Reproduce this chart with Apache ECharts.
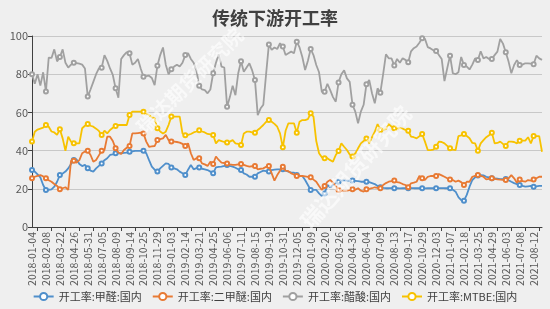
<!DOCTYPE html>
<html><head><meta charset="utf-8">
<script src="https://cdn.jsdelivr.net/npm/echarts@6/dist/echarts.min.js"></script>
<style>html,body{margin:0;padding:0;background:#efefef;}#c{width:550px;height:309px;}</style>
</head><body><div id="c"></div>
<script>
var dates = [
'2018-01-04','2018-01-11','2018-01-18','2018-01-25','2018-02-01','2018-02-08','2018-02-22','2018-03-01','2018-03-08','2018-03-15',
'2018-03-22','2018-03-29','2018-04-05','2018-04-12','2018-04-19','2018-04-26','2018-05-03','2018-05-10','2018-05-17','2018-05-24',
'2018-05-31','2018-06-07','2018-06-14','2018-06-21','2018-06-28','2018-07-05','2018-07-12','2018-07-19','2018-07-26','2018-08-02',
'2018-08-09','2018-08-16','2018-08-23','2018-08-30','2018-09-06','2018-09-14','2018-09-20','2018-09-27','2018-10-11','2018-10-18',
'2018-10-25','2018-11-01','2018-11-08','2018-11-15','2018-11-22','2018-11-29','2018-12-06','2018-12-13','2018-12-20','2018-12-27',
'2019-01-03','2019-01-10','2019-01-17','2019-01-24','2019-01-31','2019-02-14','2019-02-21','2019-02-28','2019-03-07','2019-03-14',
'2019-03-21','2019-03-28','2019-04-04','2019-04-11','2019-04-18','2019-04-25','2019-05-09','2019-05-16','2019-05-23','2019-05-30',
'2019-06-06','2019-06-13','2019-06-20','2019-06-27','2019-07-04','2019-07-11','2019-07-18','2019-07-25','2019-08-01','2019-08-08',
'2019-08-15','2019-08-22','2019-08-29','2019-09-05','2019-09-12','2019-09-19','2019-09-26','2019-10-10','2019-10-17','2019-10-24',
'2019-10-31','2019-11-07','2019-11-14','2019-11-21','2019-11-28','2019-12-05','2019-12-12','2019-12-19','2019-12-26','2020-01-02',
'2020-01-09','2020-01-16','2020-01-23','2020-02-06','2020-02-13','2020-02-20','2020-02-27','2020-03-05','2020-03-12','2020-03-19',
'2020-03-26','2020-04-02','2020-04-09','2020-04-16','2020-04-23','2020-04-30','2020-05-07','2020-05-14','2020-05-21','2020-05-28',
'2020-06-04','2020-06-11','2020-06-18','2020-06-25','2020-07-02','2020-07-09','2020-07-16','2020-07-23','2020-07-30','2020-08-06',
'2020-08-13','2020-08-20','2020-08-27','2020-09-03','2020-09-10','2020-09-17','2020-09-24','2020-10-08','2020-10-15','2020-10-22',
'2020-10-29','2020-11-05','2020-11-12','2020-11-19','2020-11-26','2020-12-03','2020-12-10','2020-12-17','2020-12-24','2020-12-31',
'2021-01-07','2021-01-14','2021-01-21','2021-01-28','2021-02-04','2021-02-18','2021-02-25','2021-03-04','2021-03-11','2021-03-18',
'2021-03-25','2021-04-01','2021-04-08','2021-04-15','2021-04-22','2021-04-29','2021-05-06','2021-05-13','2021-05-20','2021-05-27',
'2021-06-03','2021-06-10','2021-06-17','2021-06-24','2021-07-01','2021-07-08','2021-07-15','2021-07-22','2021-07-29','2021-08-05',
'2021-08-12','2021-08-19','2021-08-26','2021-09-02'];

var formaldehyde = [
29.8,29,27.5,26,22,19.4,19.5,19.7,21.1,23.7, 27.2,28,29,30.7,33,35.1,35.4,33,31.9,32.5,
30.7,29.5,29,30.7,32,33.3,35,36,37.7,38, 38.6,38.6,38.6,38.8,38.9,39.4,39.6,39.9,39.9,39.9,
39.9,38.6,35,31.6,30,29,30.7,32,33.3,33, 31.2,30.7,30.2,29,28.1,27.2,30,32.5,30.2,30.8,
31.2,30.5,30.2,29.8,29,28.1,31.2,31.5,31.6,32, 32.5,32,31.6,31,30.2,29.8,28.1,27.5,26.3,26.3,
26.3,28.1,28.8,29.5,29.2,29,29.8,30,30.2,30.2, 30.2,29.5,29,28.5,28.5,27.2,26.9,26.7,24.6,22,
19.4,19.4,19.4,17.6,16.2,17.6,22,20.8,22,23, 23.7,24.3,24.3,24.3,24.3,24.3,24.2,24,23.7,23.7,
23.7,23.5,23,22.5,21.5,20.8,20.5,20.3,20.3,20.4, 20.3,20.3,20.2,20.3,20.3,20.3,20.4,20.3,20.3,20.3,
20.3,20.2,20.3,20.3,20.3,20.3,20.3,20.4,20.3,20.3, 20.3,19.5,18.5,15.6,14.1,13.8,16.8,21.1,24.6,26,
26.9,27.2,27,26.3,26,25.5,25.5,25.3,25.1,25.1, 25.1,24.5,23.7,23,22.5,22,21.5,21.1,21.3,21.5,
21.1,21.3,21.5,21.5];

var dme = [
25.5,26.3,26.8,27.2,26.5,25.5,24.5,23.7,22.5,21.5, 19.7,20.3,20.8,19.4,34.7,34.7,33.7,35,38.6,39.5,
39.9,37.7,34.2,35.1,37.5,39.9,40.3,47.3,47.3,45, 41.2,39,38.2,40.3,41.5,42.4,49,49,49.2,49.4,
49,44.7,42,42.2,42.4,45.5,46,46.4,48.2,45.5, 44.7,44.7,44.5,44.2,43.5,42.4,43.8,38.6,35.1,36,
36,33.3,32.8,32,34.2,33,36.9,35.1,33.7,33.5, 33.3,32.8,32.5,32.5,32.8,33,32.5,32,31.6,31.8,
32,30.2,30.5,30.7,31.5,32,28.1,24.3,27.2,29.5, 31.6,29.5,29.2,28.1,27.5,26.7,26.7,26.7,26.5,26.3,
26,24.8,23.7,21.5,19.4,21.5,23.7,24.6,23.2,21.5, 19.4,19,19,19,19.3,19.7,19.5,20.3,19,18.5,
19.7,20,20.3,20.8,20.5,20.3,22,23,23.7,24, 24.3,23.5,23.2,22.5,22,20.8,22.9,23.2,23.7,26.7,
25.5,24.6,26.3,26.7,26.7,26.7,27.7,27,26.3,25.5, 24.9,24.6,23.7,24.3,23.5,22,23.7,23.7,26.3,26.8,
27.2,26.8,26.3,24.9,25.2,25.5,25.2,24.9,24.8,24.7, 24.6,25.5,27.2,25.5,23.2,24.9,24,23.7,24.6,24.3,
24.9,25.5,26.3,26.3];

var aceticAcid = [
80,75,80,74,81,71,88.7,88.5,93,86.7, 89,93,86,83.5,85,86,85.8,85.5,85,83,
68.3,72,76,80,83,83.4,90,87,83,79.6, 72.6,67.7,88,90,91.5,91,85,86,88,83,
78.7,79,79.2,78,74.3,84.4,90,94,85,80, 82.6,84,85,84,86,90,91,88,86,82,
74,72,71.7,70,72,80.5,86,90.4,84,83.5, 63,68,74,69,80.5,86.8,81.3,83.5,85.7,82,
77,58.6,62,64,80,95.6,92.7,94,93.2,96.2, 94.5,90.1,91,91.8,91,97,94,89,82.2,87,
93.2,90,84.8,81,70.8,70.8,75,71.7,68,65.6, 75.7,80,82,77.8,76,64,60.4,54.3,60.4,64,
74.7,77,70,64.8,72.6,70.3,80,90.4,88.3,88.3, 84.5,88,86,88.3,87.5,86.2,92,93.6,94.5,96.5,
98.8,98.5,94.2,93.5,92.5,92.1,90.1,88,76.4,83.1, 89.7,80.5,80,81,89,84.8,84,82.5,85,88.3,
87.4,92,88.3,89,88,88,90,91.8,98.4,96, 91.5,86.6,80.5,84.8,87.4,84.8,85,85.7,85.7,85.5,
85.2,89.7,88.3,87.5];

var mtbe = [
44.7,49.9,51,51.5,52,53.4,52.5,50,49.5,48.2, 51.2,46.4,39.9,47.3,44.7,43.8,43.8,43.8,51.7,53,
53.9,53,52.5,51.5,50.3,48.2,50.4,49,50.8,52, 52.9,53.4,53.4,53.4,53.4,58.6,60.4,60.4,60.4,60.4,
60.4,59.5,58.6,57.5,56.9,51.7,50,49,49.9,53.4, 57.8,57.8,57.8,57.8,49,48,48.2,48.7,49.5,50,
50.6,50,49.5,48.7,48.5,48.2,43.8,45.5,45,44.5, 44.2,44.7,45.5,43.8,43.5,42.9,49,49.9,49.9,49.5,
49.4,50.8,52,53.4,55,56,55.1,54,52.5,49, 41.7,50.4,54.3,54.3,54.3,49.4,55.1,56,56,56.5,
59.5,57.8,45,38.6,36.5,36,36,35,34.2,37.7, 39.8,43.8,42,40.3,38,36.9,38.5,41.2,43.8,45,
46.4,43.8,47,49.9,53.9,50.8,51,51.2,53.9,52.5, 51.7,51.7,51.7,51.5,50.8,50.4,47.3,47,46.4,47.5,
48.7,44.7,40.3,40.3,40.5,42,44.7,44.5,43.8,42.5, 41.2,40.5,40.3,47.6,48,48.7,47.6,46.5,44,43.8,
39.9,43.8,45.5,47,48,49.4,43.8,44,44.7,43.5, 42.4,44.7,44.7,44.5,43.8,45.2,45.2,45.2,47,43.8,
47.6,47.6,47.6,39.4];

var seriesNames = ['开工率:甲醛:国内','开工率:二甲醚:国内','开工率:醋酸:国内','开工率:MTBE:国内'];
var colors = ['#4f8fcb','#e87a34','#a0a0a0','#f7c200'];
var yTicks = [0,20,40,60,80,100];
var watermark = '瑞达期货研究院';

var chart = echarts.init(document.getElementById('c'), null, {renderer:'canvas'});
var seriesData = [formaldehyde, dme, aceticAcid, mtbe];
var font = '"Noto Sans CJK SC","Noto Sans",sans-serif';
chart.setOption({
  backgroundColor:'#efefef',
  animation:false,
  color:colors,
  title:{text:'传统下游开工率',left:'center',top:4,textStyle:{fontSize:18,fontWeight:'bold',color:'#404040',fontFamily:font}},
  legend:{bottom:2,left:'center',itemWidth:20,itemHeight:9,itemGap:10,
    textStyle:{fontSize:11,color:'#404040',fontFamily:font},data:seriesNames},
  grid:{left:32,right:8,top:36,bottom:82},
  xAxis:{type:'category',data:dates,boundaryGap:false,
    axisLine:{lineStyle:{color:'#404040',width:1}},
    axisTick:{show:true,interval:function(i){return i%5===2;},length:4,lineStyle:{color:'#404040'}},
    axisLabel:{interval:4,rotate:90,fontSize:10.5,color:'#595959',margin:5,fontFamily:font}},
  yAxis:{type:'value',min:yTicks[0],max:yTicks[yTicks.length-1],interval:20,
    axisLine:{show:true,lineStyle:{color:'#404040'}},
    axisTick:{show:true,length:4,lineStyle:{color:'#404040'}},
    axisLabel:{fontSize:11,color:'#595959',margin:4,fontFamily:font},
    splitLine:{lineStyle:{color:'#c8c8c8'}}},
  graphic:[
    {type:'text',x:140,y:130,rotation:0.78,z:100,silent:true,
      style:{text:watermark,font:'bold 20px "Noto Sans CJK SC"',fill:'rgba(255,255,255,0.6)',textVerticalAlign:'middle'}},
    {type:'text',x:305,y:225,rotation:0.85,z:100,silent:true,
      style:{text:watermark,font:'bold 22px "Noto Sans CJK SC"',fill:'rgba(255,255,255,0.6)',textVerticalAlign:'middle'}}
  ],
  series:seriesData.map(function(d,k){
    return {name:seriesNames[k],type:'line',data:d,symbol:'emptyCircle',symbolSize:4,showSymbol:true,
      lineStyle:{width:1.8},itemStyle:{color:colors[k],borderWidth:1},z:[2,3,1,4][k]};
  })
});
</script></body></html>
